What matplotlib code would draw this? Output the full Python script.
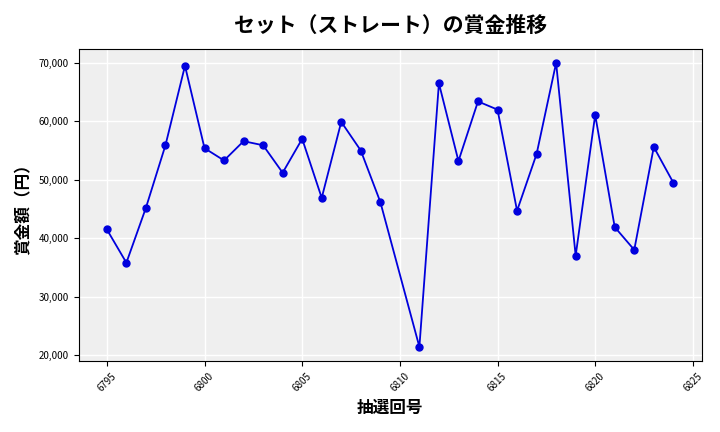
import matplotlib
matplotlib.use("Agg")
import matplotlib.pyplot as plt
from matplotlib.ticker import FuncFormatter

plt.rcParams['font.family'] = ['Noto Sans CJK JP', 'DejaVu Sans']

draws = [6795,6796,6797,6798,6799,6800,6801,6802,6803,6804,6805,6806,6807,6808,6809,
         6811,6812,6813,6814,6815,6816,6817,6818,6819,6820,6821,6822,6823,6824]
prizes = [41500,35800,45200,55900,69500,55400,53300,56600,55900,51200,57000,46900,59900,55000,46200,
          21400,66500,53200,63400,62000,44700,54400,70000,37000,61100,41900,38000,55600,49500]

fig, ax = plt.subplots(figsize=(7.2, 4.32), dpi=100)
ax.set_facecolor('#efefef')
ax.grid(True, color='white', linewidth=1)
ax.set_axisbelow(True)
ax.plot(draws, prizes, color='#0000dd', marker='o', markersize=5, linewidth=1.3)
ax.set_title('セット（ストレート）の賞金推移', fontsize=15, fontweight='bold', pad=12)
ax.set_xlabel('抽選回号', fontsize=12, fontweight='bold')
ax.set_ylabel('賞金額（円）', fontsize=12, fontweight='bold')
ax.yaxis.set_major_formatter(FuncFormatter(lambda v, p: f'{int(v):,}'))
ax.tick_params(axis='x', labelrotation=45, labelsize=7)
ax.tick_params(axis='y', labelsize=7)
fig.tight_layout()
fig.savefig('out.png', dpi=100)
